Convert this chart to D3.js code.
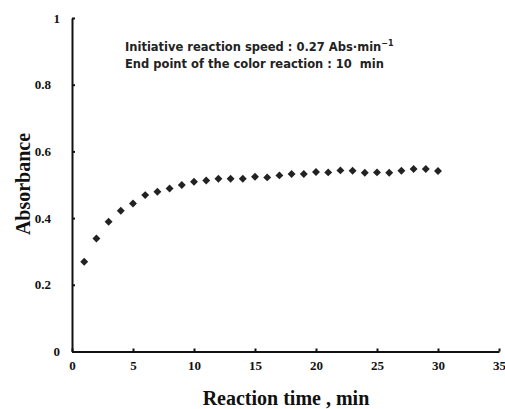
<!DOCTYPE html>
<html>
<head>
<meta charset="utf-8">
<script src="https://cdn.jsdelivr.net/npm/d3@7"></script>
<style>
  body { margin: 0; background: #fff; }
  svg { display: block; }
</style>
</head>
<body>
<div id="chart"></div>
<script>
"use strict";

// reaction time (min)
const times = [1, 2, 3, 4, 5, 6, 7, 8, 9, 10, 11, 12, 13, 14, 15, 16, 17, 18, 19, 20,
  21, 22, 23, 24, 25, 26, 27, 28, 29, 30];
// absorbance
const absorbance = [0.269, 0.339, 0.389, 0.422, 0.444, 0.469, 0.479, 0.489, 0.499, 0.509,
  0.513, 0.518, 0.518, 0.518, 0.524, 0.522, 0.528, 0.532, 0.532, 0.538,
  0.537, 0.543, 0.542, 0.536, 0.537, 0.536, 0.542, 0.547, 0.547, 0.541];
const xTicks = [0, 5, 10, 15, 20, 25, 30, 35];
const yTicks = [0, 0.2, 0.4, 0.6, 0.8, 1];
const notes = ["Initiative reaction speed : 0.27 Abs\u00b7min", "End point of the color reaction : 10  min"];

const svgWidth = 505;
const svgHeight = 409;

const svg = d3.select("#chart")
  .append("svg")
  .attr("width", svgWidth)
  .attr("height", svgHeight);

const xScale = d3.scaleLinear().domain([0, 35]).range([72, 499]);
const yScale = d3.scaleLinear().domain([0, 1]).range([351.5, 18]);

const serif = "'Liberation Serif', 'DejaVu Serif', serif";

// axes
const xAxis = d3.axisBottom(xScale)
  .tickValues(xTicks)
  .tickSize(0)
  .tickPadding(7)
  .tickFormat(d3.format("d"));
const yAxis = d3.axisLeft(yScale)
  .tickValues(yTicks)
  .tickSize(0)
  .tickPadding(12)
  .tickFormat(d => d === 0 || d === 1 ? String(d) : d3.format(".1f")(d));

const gx = svg.append("g")
  .attr("transform", `translate(0, ${yScale(0)})`)
  .call(xAxis);
const gy = svg.append("g")
  .attr("transform", `translate(${xScale(0)}, 0)`)
  .call(yAxis);

[gx, gy].forEach(g => {
  g.select(".domain").attr("stroke", "#111").attr("stroke-width", 2);
  g.selectAll("text")
    .attr("fill", "#111")
    .style("font-family", serif)
    .style("font-weight", "bold")
    .style("font-size", "13px");
});
gx.selectAll("text").attr("dy", "0.9em");
// decimal labels sit further left than the whole numbers
gy.selectAll(".tick text").attr("dx", d => (d === 0 || d === 1) ? 0 : -9);

// small inward tick marks
gx.selectAll(".tick").append("line")
  .attr("y1", 0).attr("y2", -3)
  .attr("stroke", "#111").attr("stroke-width", 2);
gy.selectAll(".tick").append("line")
  .attr("x1", 0).attr("x2", 3)
  .attr("stroke", "#111").attr("stroke-width", 2);

// points
const diamond = d3.symbol().type(d3.symbolDiamond2).size(40);
svg.append("g")
  .selectAll("path")
  .data(times)
  .enter()
  .append("path")
  .attr("d", diamond)
  .attr("transform", (d, i) => `translate(${xScale(d)}, ${yScale(absorbance[i])})`)
  .attr("fill", "#222");

// axis titles
svg.append("text")
  .attr("x", 286)
  .attr("y", 405)
  .attr("text-anchor", "middle")
  .style("font-family", serif)
  .style("font-weight", "bold")
  .style("font-size", "20px")
  .attr("fill", "#111")
  .text("Reaction time , min");

svg.append("text")
  .attr("transform", "translate(30, 184) rotate(-90)")
  .attr("text-anchor", "middle")
  .style("font-family", serif)
  .style("font-weight", "bold")
  .style("font-size", "20px")
  .attr("fill", "#111")
  .text("Absorbance");

// annotation
const note = svg.append("g")
  .style("font-family", "'DejaVu Sans', sans-serif")
  .style("font-weight", "bold")
  .style("font-size", "11.5px")
  .attr("fill", "#222");

const line1 = note.append("text").attr("x", 125).attr("y", 51).text(notes[0]);
line1.append("tspan")
  .attr("dy", -5)
  .style("font-size", "8px")
  .text("\u22121");
note.append("text").attr("x", 125).attr("y", 68).attr("xml:space", "preserve").style("white-space", "pre").text(notes[1]);
</script>
</body>
</html>
